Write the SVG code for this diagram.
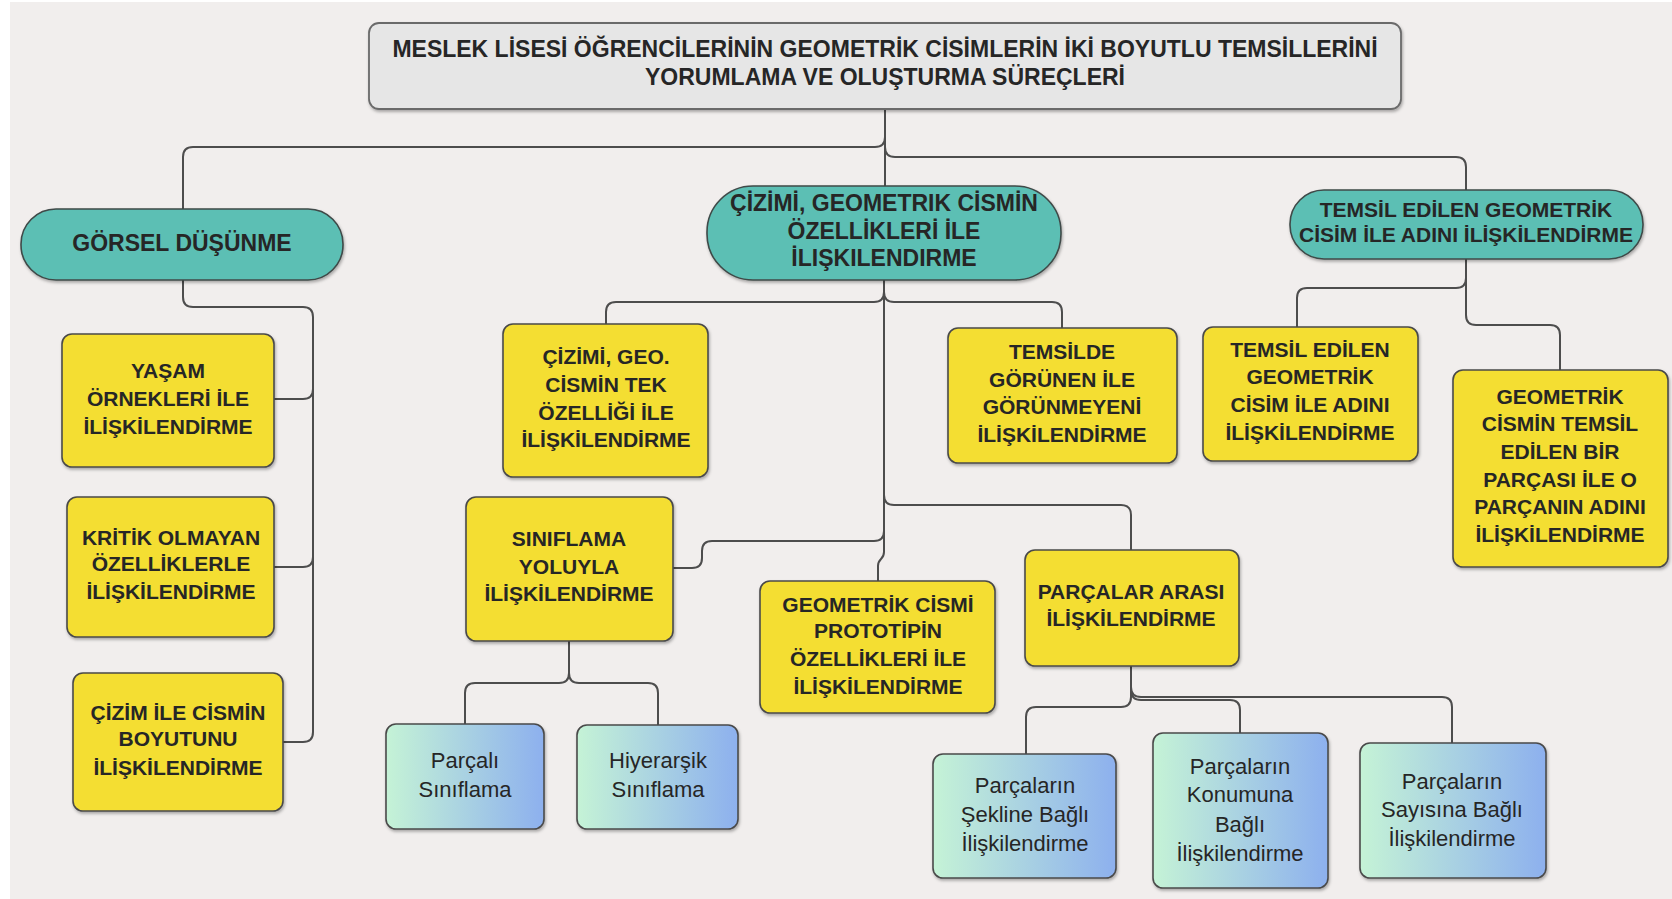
<svg xmlns="http://www.w3.org/2000/svg" width="1672" height="899" viewBox="0 0 1672 899">
<defs>
<linearGradient id="g" x1="0" y1="0" x2="1" y2="0">
<stop offset="0" stop-color="#c5f3d6"/>
<stop offset="1" stop-color="#8db0ee"/>
</linearGradient>
<filter id="sh" x="-10%" y="-10%" width="125%" height="130%">
<feDropShadow dx="1" dy="2" stdDeviation="1.5" flood-color="#000" flood-opacity="0.3"/>
</filter>
</defs>
<style>
.bx{fill:#f4de33;stroke:#4a4a4a;stroke-width:1.6;filter:url(#sh)}
.pl{fill:#5cbfb4;stroke:#3f4a48;stroke-width:1.6;filter:url(#sh)}
.gb{fill:url(#g);stroke:#4a4a4a;stroke-width:1.6;filter:url(#sh)}
.tt{fill:#e6e6e6;stroke:#6a6a6a;stroke-width:1.8;filter:url(#sh)}
text{font-family:"Liberation Sans",Arial,sans-serif;fill:#262626;text-anchor:middle}
.b{font-weight:bold;font-size:21px}
.h{font-weight:bold;font-size:23px}
.p{font-weight:bold;font-size:23px}
.r{font-size:22px}
.c path{fill:none;stroke:#4d4d4d;stroke-width:2}
</style>
<rect x="0" y="0" width="1672" height="899" fill="#ffffff"/>
<rect x="10" y="2" width="1662" height="897" fill="#f1eeed"/>

<g class="c" id="connectors">
<path d="M885 109 V186"/>
<path d="M885 137 Q885 147 875 147 H193 Q183 147 183 157 V209"/>
<path d="M885 147 Q885 157 895 157 H1456 Q1466 157 1466 167 V190"/>
<path d="M183 280 V297 Q183 307 193 307 H303 Q313 307 313 317 V732 Q313 742 303 742 H283"/>
<path d="M274 399 H303 Q313 399 313 389"/>
<path d="M274 567 H303 Q313 567 313 557"/>
<path d="M884 280 V552 C884 560 878 558 878 566 V581"/>
<path d="M884 292 Q884 302 874 302 H616 Q606 302 606 312 V324"/>
<path d="M884 292 Q884 302 894 302 H1052 Q1062 302 1062 312 V328"/>
<path d="M884 495 Q884 505 894 505 H1121 Q1131 505 1131 515 V550"/>
<path d="M884 531 Q884 541 874 541 H712 Q702 541 702 551 V558 Q702 568 692 568 H673"/>
<path d="M569 641 V673 Q569 683 559 683 H475 Q465 683 465 693 V724"/>
<path d="M569 673 Q569 683 579 683 H648 Q658 683 658 693 V725"/>
<path d="M1131 666 V687 Q1131 697 1141 697 H1442 Q1452 697 1452 707 V743"/>
<path d="M1131 690 Q1131 700 1141 700 H1230 Q1240 700 1240 710 V733"/>
<path d="M1131 687 V697 Q1131 707 1121 707 H1036 Q1026 707 1026 717 V754"/>
<path d="M1466 259 V278 Q1466 288 1456 288 H1307 Q1297 288 1297 298 V327"/>
<path d="M1466 278 V315 Q1466 325 1476 325 H1550 Q1560 325 1560 335 V370"/>
</g>

<g id="title">
<rect class="tt" x="369" y="23" width="1032" height="86" rx="10"/>
<text class="h" x="885" y="57.3">MESLEK LİSESİ ÖĞRENCİLERİNİN GEOMETRİK CİSİMLERİN İKİ BOYUTLU TEMSİLLERİNİ</text>
<text class="h" x="885" y="85.3">YORUMLAMA VE OLUŞTURMA SÜREÇLERİ</text>
</g>

<g id="gorsel">
<rect class="pl" x="21" y="209" width="322" height="71" rx="35"/>
<text class="p" x="182" y="251.3">GÖRSEL DÜŞÜNME</text>
</g>

<g id="cizimi">
<rect class="pl" x="707" y="186" width="354" height="94" rx="46"/>
<text class="p" x="884" y="210.9">ÇİZİMİ, GEOMETRIK CİSMİN</text>
<text class="p" x="884" y="238.6">ÖZELLİKLERİ İLE</text>
<text class="p" x="884" y="266.3">İLIŞKILENDIRME</text>
</g>

<g id="temsil">
<rect class="pl" x="1290" y="190" width="353" height="69" rx="34"/>
<text class="b" x="1466" y="216.5">TEMSİL EDİLEN GEOMETRİK</text>
<text class="b" x="1466" y="241.5">CİSİM İLE ADINI İLİŞKİLENDİRME</text>
</g>

<g id="yasam">
<rect class="bx" x="62" y="334" width="212" height="133" rx="10"/>
<text class="b" x="168" y="377.5">YAŞAM</text>
<text class="b" x="168" y="405.5">ÖRNEKLERİ İLE</text>
<text class="b" x="168" y="433.5">İLİŞKİLENDİRME</text>
</g>

<g id="kritik">
<rect class="bx" x="67" y="497" width="207" height="140" rx="10"/>
<text class="b" x="171" y="544.5">KRİTİK OLMAYAN</text>
<text class="b" x="171" y="570.5">ÖZELLİKLERLE</text>
<text class="b" x="171" y="598.5">İLİŞKİLENDİRME</text>
</g>

<g id="cizim-boyut">
<rect class="bx" x="73" y="673" width="210" height="138" rx="10"/>
<text class="b" x="178" y="719.5">ÇİZİM İLE CİSMİN</text>
<text class="b" x="178" y="745.5">BOYUTUNU</text>
<text class="b" x="178" y="774.5">İLİŞKİLENDİRME</text>
</g>

<g id="tek-ozellik">
<rect class="bx" x="503" y="324" width="205" height="153" rx="10"/>
<text class="b" x="606" y="363.5">ÇİZİMİ, GEO.</text>
<text class="b" x="606" y="391.5">CİSMİN TEK</text>
<text class="b" x="606" y="419.5">ÖZELLİĞİ İLE</text>
<text class="b" x="606" y="446.5">İLİŞKİLENDİRME</text>
</g>

<g id="temsilde">
<rect class="bx" x="948" y="328" width="229" height="135" rx="10"/>
<text class="b" x="1062" y="358.5">TEMSİLDE</text>
<text class="b" x="1062" y="386.5">GÖRÜNEN İLE</text>
<text class="b" x="1062" y="413.5">GÖRÜNMEYENİ</text>
<text class="b" x="1062" y="441.5">İLİŞKİLENDİRME</text>
</g>

<g id="siniflama">
<rect class="bx" x="466" y="497" width="207" height="144" rx="10"/>
<text class="b" x="569" y="545.5">SINIFLAMA</text>
<text class="b" x="569" y="573.5">YOLUYLA</text>
<text class="b" x="569" y="600.5">İLİŞKİLENDİRME</text>
</g>

<g id="prototip">
<rect class="bx" x="760" y="581" width="235" height="132" rx="10"/>
<text class="b" x="878" y="611.5">GEOMETRİK CİSMİ</text>
<text class="b" x="878" y="637.5">PROTOTİPİN</text>
<text class="b" x="878" y="665.5">ÖZELLİKLERİ İLE</text>
<text class="b" x="878" y="693.5">İLİŞKİLENDİRME</text>
</g>

<g id="parcalar">
<rect class="bx" x="1025" y="550" width="214" height="116" rx="10"/>
<text class="b" x="1131" y="598.5">PARÇALAR ARASI</text>
<text class="b" x="1131" y="625.5">İLİŞKİLENDİRME</text>
</g>

<g id="parcali">
<rect class="gb" x="386" y="724" width="158" height="105" rx="10"/>
<text class="r" x="465" y="768">Parçalı</text>
<text class="r" x="465" y="797">Sınıflama</text>
</g>

<g id="hiyerarsik">
<rect class="gb" x="577" y="725" width="161" height="104" rx="10"/>
<text class="r" x="658" y="768">Hiyerarşik</text>
<text class="r" x="658" y="797">Sınıflama</text>
</g>

<g id="sekline">
<rect class="gb" x="933" y="754" width="183" height="124" rx="10"/>
<text class="r" x="1025" y="793">Parçaların</text>
<text class="r" x="1025" y="822">Şekline Bağlı</text>
<text class="r" x="1025" y="851">İlişkilendirme</text>
</g>

<g id="konumuna">
<rect class="gb" x="1153" y="733" width="175" height="155" rx="10"/>
<text class="r" x="1240" y="774">Parçaların</text>
<text class="r" x="1240" y="802">Konumuna</text>
<text class="r" x="1240" y="832">Bağlı</text>
<text class="r" x="1240" y="861">İlişkilendirme</text>
</g>

<g id="sayisina">
<rect class="gb" x="1360" y="743" width="186" height="135" rx="10"/>
<text class="r" x="1452" y="789">Parçaların</text>
<text class="r" x="1452" y="817">Sayısına Bağlı</text>
<text class="r" x="1452" y="846">İlişkilendirme</text>
</g>

<g id="temsil-adi">
<rect class="bx" x="1203" y="327" width="215" height="134" rx="10"/>
<text class="b" x="1310" y="356.5">TEMSİL EDİLEN</text>
<text class="b" x="1310" y="383.5">GEOMETRİK</text>
<text class="b" x="1310" y="411.5">CİSİM İLE ADINI</text>
<text class="b" x="1310" y="439.5">İLİŞKİLENDİRME</text>
</g>

<g id="parca-adi">
<rect class="bx" x="1453" y="370" width="215" height="197" rx="10"/>
<text class="b" x="1560" y="403.5">GEOMETRİK</text>
<text class="b" x="1560" y="430.5">CİSMİN TEMSİL</text>
<text class="b" x="1560" y="458.5">EDİLEN BİR</text>
<text class="b" x="1560" y="486.5">PARÇASI İLE O</text>
<text class="b" x="1560" y="513.5">PARÇANIN ADINI</text>
<text class="b" x="1560" y="541.5">İLİŞKİLENDİRME</text>
</g>
</svg>
